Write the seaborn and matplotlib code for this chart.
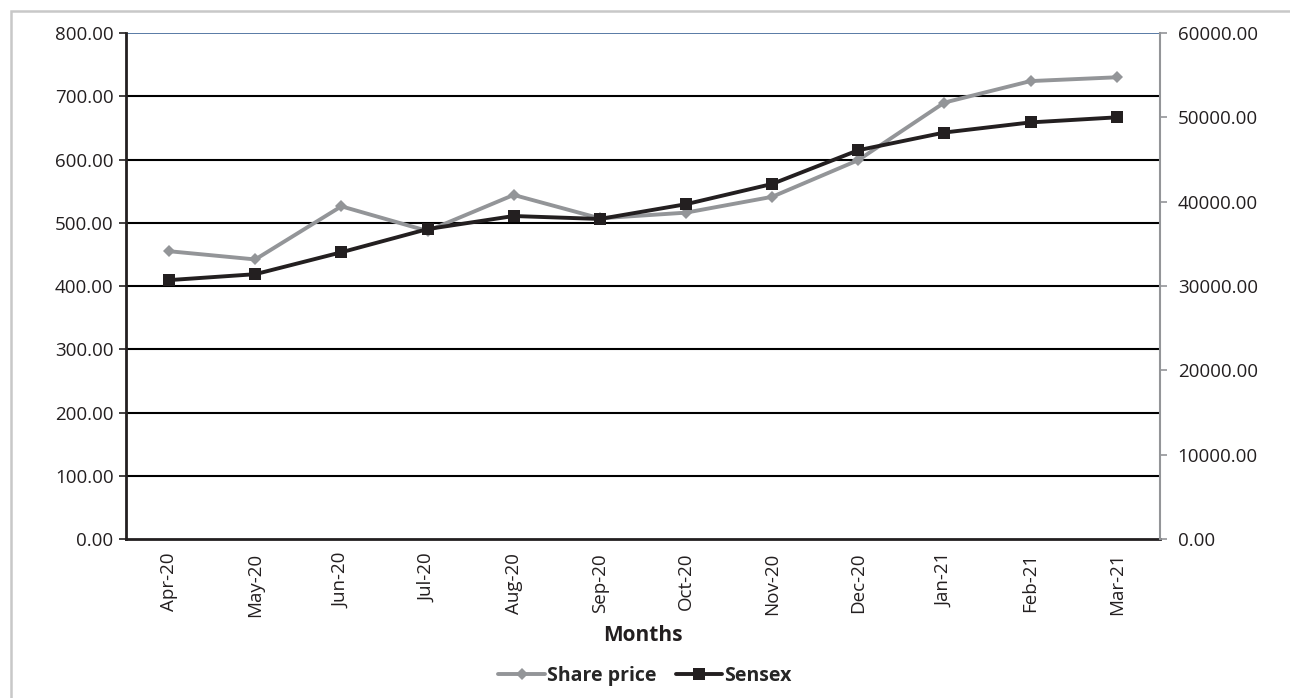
import pandas as pd
import matplotlib
matplotlib.use("Agg")
import matplotlib.pyplot as plt
from matplotlib.ticker import FormatStrFormatter, FixedLocator
from matplotlib.lines import Line2D
from matplotlib.patches import Rectangle
import seaborn as sns

# Data
months = ["Apr-20", "May-20", "Jun-20", "Jul-20", "Aug-20", "Sep-20",
          "Oct-20", "Nov-20", "Dec-20", "Jan-21", "Feb-21", "Mar-21"]
share_price = [455, 442, 526, 487, 544, 507, 516, 541, 599, 690, 724, 730]
sensex = [30700, 31400, 34000, 36750, 38300, 37950,
          39700, 42100, 46100, 48200, 49400, 50000]

df = pd.DataFrame({"Month": months, "Share price": share_price, "Sensex": sensex})

sns.set_style("white")
plt.rcParams["font.family"] = ["Open Sans", "DejaVu Sans"]

gray = "#939598"
black = "#231f20"
tick_size = 13.5

fig = plt.figure(figsize=(12.9, 6.98), dpi=100)
ax = fig.add_axes([0.0977, 0.2278, 0.8013, 0.7249])
ax2 = ax.twinx()

sns.lineplot(data=df, x="Month", y="Share price", ax=ax, color=gray,
             linewidth=2.8, marker="D", markersize=6, markeredgewidth=0,
             sort=False)
sns.lineplot(data=df, x="Month", y="Sensex", ax=ax2, color=black,
             linewidth=2.8, marker="s", markersize=9, markeredgewidth=0,
             sort=False)

# left axis
ax.set_ylim(0, 800)
ax.set_yticks(range(0, 801, 100))
ax.yaxis.set_major_formatter(FormatStrFormatter("%.2f"))
ax.set_xlim(-0.5, 11.5)
ax.set_xticks(range(12))
ax.set_xticklabels(months, rotation=90)
ax.xaxis.set_minor_locator(FixedLocator([i - 0.5 for i in range(13)]))
ax.tick_params(axis="x", which="major", length=0, pad=10, labelsize=tick_size, colors=black)
ax.tick_params(axis="x", which="minor", length=5, width=1.2, color=black, direction="out")
ax.tick_params(axis="y", length=5, width=1.2, color=black, labelsize=tick_size,
               labelcolor=black, left=True, direction="out", pad=4)
for y in range(100, 800, 100):
    ax.axhline(y, color="black", linewidth=1.5, zorder=0)
ax.axhline(800, color="#3c6496", linewidth=1.2, zorder=0)

ax.set_xlabel("Months", fontsize=15, fontweight="bold", labelpad=6, color=black)
ax.set_ylabel("")

# right axis
ax2.set_ylim(0, 60000)
ax2.set_yticks(range(0, 60001, 10000))
ax2.yaxis.set_major_formatter(FormatStrFormatter("%.2f"))
ax2.tick_params(axis="y", length=5, width=1.2, color=gray, labelsize=tick_size,
                labelcolor=black, right=True, direction="out", pad=8)
ax2.set_ylabel("")
ax2.set_xlabel("")

for a in (ax, ax2):
    a.spines["top"].set_visible(False)
ax.spines["left"].set_color(black)
ax.spines["left"].set_linewidth(2)
ax.spines["bottom"].set_color(black)
ax.spines["bottom"].set_linewidth(2)
ax.spines["right"].set_visible(False)
ax2.spines["left"].set_visible(False)
ax2.spines["bottom"].set_visible(False)
ax2.spines["right"].set_color(gray)
ax2.spines["right"].set_linewidth(1.5)

if ax.get_legend():
    ax.get_legend().remove()
if ax2.get_legend():
    ax2.get_legend().remove()

handles = [
    Line2D([], [], color=gray, linewidth=2.8, marker="D", markersize=6, markeredgewidth=0),
    Line2D([], [], color=black, linewidth=2.8, marker="s", markersize=9, markeredgewidth=0),
]
fig.legend(handles, ["Share price", "Sensex"], loc="lower center",
           bbox_to_anchor=(0.5, -0.008), ncol=2, frameon=False, handlelength=2.4,
           handletextpad=0.1, columnspacing=1.0,
           prop={"weight": "bold", "size": 14})

# light frame around the chart
fig.patches.append(Rectangle((11 / 1290, -0.02), 1.0, 1 - 11 / 698 + 0.02,
                             transform=fig.transFigure, fill=False,
                             edgecolor="#c8c8c8", linewidth=1.8))

fig.savefig("out.png", dpi=100)
